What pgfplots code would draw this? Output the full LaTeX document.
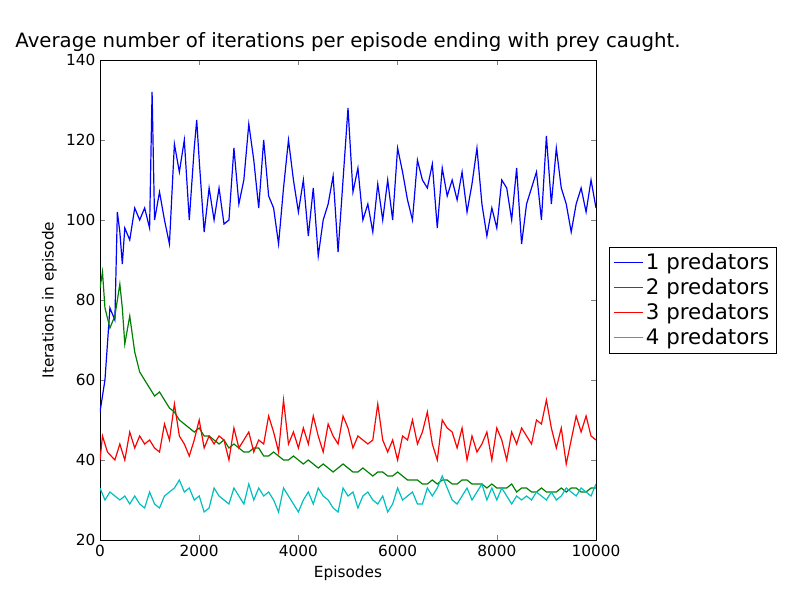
\documentclass[border=0pt]{standalone}
\usepackage{pgfplots}
\pgfplotsset{compat=1.18}
\usepackage{fontspec}
\setmainfont{DejaVu Sans}
\definecolor{mplg}{rgb}{0,0.5,0}
\definecolor{mplc}{rgb}{0,0.75,0.75}
\begin{document}
\begin{tikzpicture}
\useasboundingbox (-75pt,-45pt) rectangle (525pt,405pt);
\begin{axis}[
  at={(0,0)}, anchor=south west,
  scale only axis, width=372pt, height=360pt,
  xmin=0, xmax=10000, ymin=20, ymax=140,
  xtick={0,2000,4000,6000,8000,10000},
  ytick={20,40,60,80,100,120,140},
  scaled x ticks=false,
  xticklabel style={/pgf/number format/1000 sep={}},
  /pgf/number format/assume math mode=true,
  tick align=inside, tick pos=both,
  major tick length=4pt,
  tick label style={font=\fontsize{11.5}{13}\selectfont},
  label style={font=\fontsize{11.5}{13}\selectfont},
  xlabel={Episodes}, ylabel={Iterations in episode},
  title={Average number of iterations per episode ending with prey caught.},
  title style={font=\fontsize{14.8}{17}\selectfont, yshift=-3pt},
  legend style={at={(1.027,0.5)}, anchor=west, font=\fontsize{16}{19}\selectfont, draw=black, inner sep=3pt, row sep=1pt},
  legend cell align=left,
  every axis plot/.append style={line width=0.9pt},
  legend image code/.code={\draw[#1] (0.1cm,0cm) -- (0.85cm,0cm);},
]
\addplot[blue] coordinates {(0,52)(100,60)(200,78)(300,75)(350,102)(400,97)(450,89)(500,98)(600,95)(700,103)(800,100)(900,103)(1000,98)(1050,132)(1100,100)(1200,107)(1300,100)(1400,94)(1500,119)(1600,112)(1700,120)(1800,100)(1900,118)(1950,125)(2000,115)(2100,97)(2200,108)(2300,100)(2400,108)(2500,99)(2600,100)(2700,118)(2800,104)(2900,110)(3000,124)(3100,115)(3200,103)(3300,120)(3400,106)(3500,103)(3600,94)(3700,108)(3800,120)(3900,110)(4000,102)(4100,110)(4200,96)(4300,108)(4400,91)(4500,100)(4600,104)(4700,111)(4800,92)(4900,110)(5000,128)(5100,107)(5200,113)(5300,100)(5400,104)(5500,97)(5600,109)(5700,100)(5800,110)(5900,100)(6000,118)(6100,112)(6200,105)(6300,100)(6400,115)(6500,110)(6600,108)(6700,114)(6800,98)(6900,113)(7000,106)(7100,110)(7200,105)(7300,112)(7400,102)(7500,109)(7600,118)(7700,104)(7800,96)(7900,103)(8000,98)(8100,110)(8200,108)(8300,100)(8400,113)(8500,94)(8600,104)(8700,108)(8800,112)(8900,100)(9000,121)(9100,104)(9200,118)(9300,108)(9400,104)(9500,97)(9600,104)(9700,108)(9800,102)(9900,110)(10000,103)};
\addlegendentry{1 predators}
\addplot[mplg] coordinates {(0,83)(50,87)(100,78)(200,73)(300,76)(400,84)(450,78)(500,69)(600,76)(700,67)(800,62)(900,60)(1000,58)(1100,56)(1200,57)(1300,55)(1400,53)(1500,52)(1600,50)(1700,49)(1800,48)(1900,47)(2000,48)(2100,46)(2200,46)(2300,45)(2400,44)(2500,45)(2600,43)(2700,44)(2800,43)(2900,42)(3000,42)(3100,43)(3200,43)(3300,41)(3400,41)(3500,42)(3600,41)(3700,40)(3800,40)(3900,41)(4000,40)(4100,39)(4200,40)(4300,39)(4400,38)(4500,39)(4600,38)(4700,37)(4800,38)(4900,39)(5000,38)(5100,37)(5200,37)(5300,38)(5400,37)(5500,36)(5600,37)(5700,37)(5800,36)(5900,36)(6000,37)(6100,36)(6200,35)(6300,35)(6400,35)(6500,34)(6600,34)(6700,35)(6800,34)(6900,35)(7000,35)(7100,34)(7200,34)(7300,35)(7400,35)(7500,34)(7600,34)(7700,34)(7800,33)(7900,34)(8000,33)(8100,33)(8200,33)(8300,34)(8400,32)(8500,33)(8600,33)(8700,32)(8800,32)(8900,33)(9000,32)(9100,32)(9200,32)(9300,33)(9400,32)(9500,33)(9600,33)(9700,32)(9800,32)(9900,33)(10000,33)};
\addlegendentry{2 predators}
\addplot[red] coordinates {(0,40)(50,46)(150,42)(300,40)(400,44)(500,40)(600,47)(700,43)(800,46)(900,44)(1000,45)(1100,43)(1200,42)(1300,49)(1400,45)(1500,54)(1600,46)(1700,44)(1800,41)(1900,45)(2000,50)(2100,43)(2200,46)(2300,44)(2400,46)(2500,45)(2600,40)(2700,48)(2800,43)(2900,45)(3000,47)(3100,42)(3200,45)(3300,44)(3400,51)(3500,47)(3600,42)(3700,55)(3800,44)(3900,47)(4000,43)(4100,48)(4200,44)(4300,51)(4400,46)(4500,42)(4600,49)(4700,46)(4800,44)(4900,51)(5000,48)(5100,43)(5200,46)(5300,45)(5400,44)(5500,45)(5600,54)(5700,45)(5800,42)(5900,45)(6000,40)(6100,46)(6200,45)(6300,50)(6400,44)(6500,47)(6600,52)(6700,44)(6800,40)(6900,50)(7000,48)(7100,47)(7200,43)(7300,48)(7400,40)(7500,46)(7600,42)(7700,44)(7800,47)(7900,40)(8000,48)(8100,45)(8200,40)(8300,47)(8400,44)(8500,48)(8600,46)(8700,44)(8800,50)(8900,49)(9000,55)(9100,48)(9200,43)(9300,48)(9400,39)(9500,45)(9600,51)(9700,47)(9800,51)(9900,46)(10000,45)};
\addlegendentry{3 predators}
\addplot[mplc] coordinates {(0,33)(100,30)(200,32)(300,31)(400,30)(500,31)(600,29)(700,31)(800,29)(900,28)(1000,32)(1100,29)(1200,28)(1300,31)(1400,32)(1500,33)(1600,35)(1700,32)(1800,33)(1900,30)(2000,31)(2100,27)(2200,28)(2300,33)(2400,31)(2500,30)(2600,29)(2700,33)(2800,31)(2900,29)(3000,34)(3100,30)(3200,33)(3300,31)(3400,32)(3500,30)(3600,27)(3700,33)(3800,31)(3900,29)(4000,27)(4100,30)(4200,32)(4300,29)(4400,33)(4500,31)(4600,30)(4700,28)(4800,27)(4900,33)(5000,31)(5100,32)(5200,28)(5300,31)(5400,32)(5500,30)(5600,29)(5700,31)(5800,27)(5900,29)(6000,33)(6100,30)(6200,31)(6300,32)(6400,29)(6500,29)(6600,33)(6700,31)(6800,33)(6900,36)(7000,33)(7100,30)(7200,29)(7300,31)(7400,33)(7500,30)(7600,32)(7700,34)(7800,30)(7900,33)(8000,30)(8100,33)(8200,31)(8300,29)(8400,31)(8500,30)(8600,31)(8700,30)(8800,32)(8900,31)(9000,30)(9100,32)(9200,30)(9300,31)(9400,33)(9500,32)(9600,31)(9700,33)(9800,32)(9900,31)(10000,34)};
\addlegendentry{4 predators}
\end{axis}
\end{tikzpicture}
\end{document}
